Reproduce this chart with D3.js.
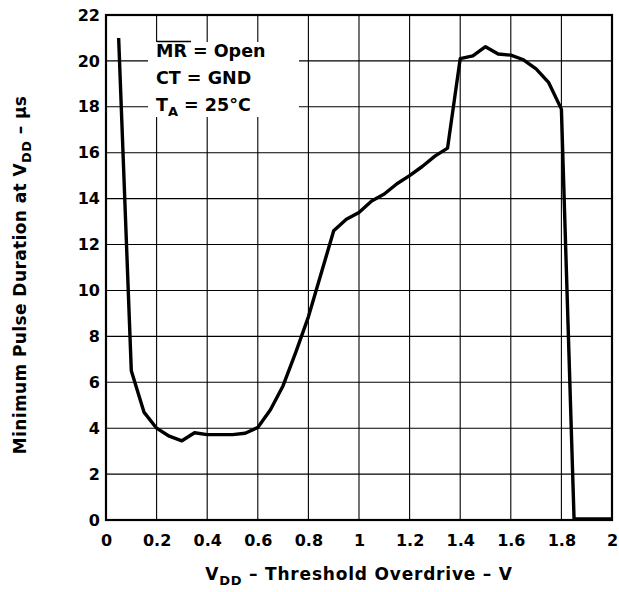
<!DOCTYPE html>
<html>
<head>
<meta charset="utf-8">
<script src="https://cdn.jsdelivr.net/npm/d3@7"></script>
<style>
  body { margin: 0; background: #fff; }
  svg text { font-family: "DejaVu Sans", Arial, sans-serif; font-weight: bold; fill: #000; }
</style>
</head>
<body>
<svg id="chart" width="619" height="592"></svg>
<script>
// values
var vdd = [0.05, 0.10, 0.15, 0.20, 0.25, 0.30, 0.35, 0.40, 0.45, 0.50,
           0.55, 0.60, 0.65, 0.70, 0.75, 0.80, 0.90, 0.95, 1.00, 1.05,
           1.10, 1.15, 1.20, 1.25, 1.30, 1.35, 1.40, 1.45, 1.50, 1.55,
           1.60, 1.65, 1.70, 1.75, 1.80, 1.85, 2.00];
var pulse = [21.0, 6.5, 4.7, 4.0, 3.65, 3.45, 3.8, 3.72, 3.72, 3.72,
             3.78, 4.03, 4.8, 5.85, 7.3, 8.85, 12.6, 13.1, 13.4, 13.9,
             14.2, 14.65, 15.0, 15.4, 15.85, 16.2, 20.1, 20.22, 20.62, 20.3,
             20.25, 20.05, 19.65, 19.05, 17.9, 0.05, 0.05];
var xTicks = [0, 0.2, 0.4, 0.6, 0.8, 1, 1.2, 1.4, 1.6, 1.8, 2];
var yTicks = [0, 2, 4, 6, 8, 10, 12, 14, 16, 18, 20, 22];

var svg = d3.select("#chart");
// plot box (window.top is reserved, so the edges get their own names)
var plotL = 106, plotR = 612, plotT = 15, plotB = 520;

var x = d3.scaleLinear().domain([0, 2]).range([plotL, plotR]);
var y = d3.scaleLinear().domain([0, 22]).range([plotB, plotT]);

// grid
var grid = svg.append("g").attr("stroke", "#000").attr("stroke-width", 1.1);
grid.selectAll(".vg").data(xTicks.slice(1, -1)).enter().append("line")
    .attr("x1", d => x(d)).attr("x2", d => x(d))
    .attr("y1", plotT).attr("y2", plotB);
grid.selectAll(".hg").data(yTicks.slice(1, -1)).enter().append("line")
    .attr("x1", plotL).attr("x2", plotR)
    .attr("y1", d => y(d)).attr("y2", d => y(d));

// axes: tick labels only, no tick marks
var xAxis = svg.append("g").attr("transform", "translate(0," + plotB + ")")
    .call(d3.axisBottom(x).tickValues(xTicks).tickSize(0).tickPadding(15)
        .tickFormat(d3.format("~g")));
var yAxis = svg.append("g").attr("transform", "translate(" + plotL + ",0)")
    .call(d3.axisLeft(y).tickValues(yTicks).tickSize(0).tickPadding(6));
[xAxis, yAxis].forEach(function (a) {
    a.select(".domain").remove();
    a.selectAll("text").style("font-size", "16px")
        .style("font-family", "'DejaVu Sans', Arial, sans-serif").style("font-weight", "bold");
});
xAxis.selectAll("text").attr("dy", "0.71em");

// frame
svg.append("rect").attr("x", plotL).attr("y", plotT)
    .attr("width", plotR - plotL).attr("height", plotB - plotT)
    .attr("fill", "none").attr("stroke", "#000").attr("stroke-width", 2.2);

// annotation box
svg.append("rect").attr("x", 148).attr("y", 42).attr("width", 151).attr("height", 75)
    .attr("fill", "#fff");
var note = svg.append("g").style("font-size", "17.5px");
note.append("text").attr("x", 156).attr("y", 57).text("MR = Open");
note.append("line").attr("x1", 157).attr("x2", 191).attr("y1", 41.5).attr("y2", 41.5)
    .attr("stroke", "#000").attr("stroke-width", 1.3);
note.append("text").attr("x", 156).attr("y", 84).text("CT = GND");
var ta = note.append("text").attr("x", 156).attr("y", 111);
ta.append("tspan").text("T");
ta.append("tspan").attr("dy", 5).style("font-size", "13px").text("A");
ta.append("tspan").attr("dy", -5).text(" = 25\u00B0C");

// curve
var line = d3.line().x((d, i) => x(vdd[i])).y(d => y(d));
svg.append("path").datum(pulse).attr("d", line)
    .attr("fill", "none").attr("stroke", "#000").attr("stroke-width", 3.4)
    .attr("stroke-linejoin", "round");

// axis titles
var xt = svg.append("text").attr("x", (plotL + plotR) / 2).attr("y", 580)
    .attr("text-anchor", "middle").style("font-size", "17px")
    .style("letter-spacing", "0.8px");
xt.append("tspan").text("V");
xt.append("tspan").attr("dy", 5).style("font-size", "13px").text("DD");
xt.append("tspan").attr("dy", -5).text(" \u2013 Threshold Overdrive \u2013 V");

var yt = svg.append("text").attr("transform", "translate(26,275) rotate(-90)")
    .attr("text-anchor", "middle").style("font-size", "17px")
    .style("letter-spacing", "0.4px");
yt.append("tspan").text("Minimum Pulse Duration at V");
yt.append("tspan").attr("dy", 5).style("font-size", "13px").text("DD");
yt.append("tspan").attr("dy", -5).text(" \u2013 \u00B5s");
</script>
</body>
</html>
